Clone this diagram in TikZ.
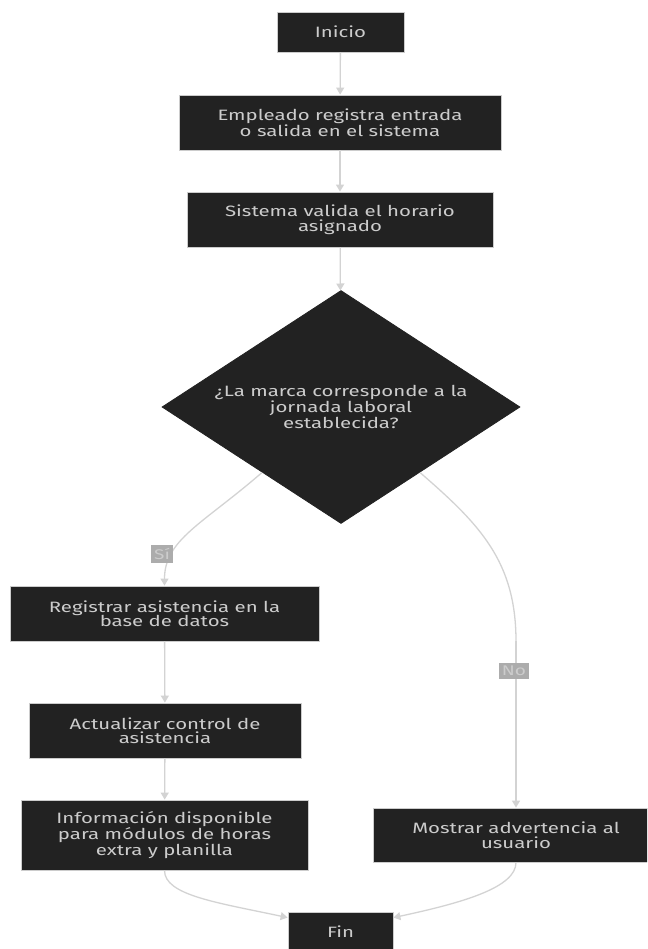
\documentclass[tikz,border=0pt]{standalone}
\usepackage{fontspec}
\setmainfont{Fira Sans}[FakeStretch=1.36]
\usetikzlibrary{arrows.meta,shapes.geometric,calc}
\definecolor{nodebg}{HTML}{222222}
\definecolor{nodeline}{HTML}{CCCCCC}
\definecolor{nodetext}{HTML}{CCCCCC}
\definecolor{edgecol}{HTML}{D3D3D3}
\definecolor{lblbg}{HTML}{ACACAC}
\tikzset{
	box/.style={draw=nodeline,fill=nodebg,text=nodetext,rectangle,align=center,inner sep=0pt,line width=0.8pt,font=\fontsize{15}{14.5}\selectfont},
	decision/.style={box,diamond,draw=nodebg,aspect=1.5},
	lbl/.style={fill=lblbg,text=nodetext,inner sep=3pt,font=\fontsize{14}{14}\selectfont},
	flow/.style={draw=edgecol,line width=1.3pt,-{Triangle[width=8pt,length=7pt]}}
}

\begin{document}
\begin{tikzpicture}[x=1pt,y=-1pt]
	\useasboundingbox (0,0) rectangle (647,949);
	\clip (0,0) rectangle (647,949);
	\node[box,minimum width=127pt,minimum height=40pt] (inicio) at (340.5,32) {Inicio};
	\node[box,minimum width=322pt,minimum height=55pt] (registro) at (340,122.5) {Empleado registra entrada\\o salida en el sistema};
	\node[box,minimum width=306pt,minimum height=55pt] (valida) at (340,219.5) {Sistema valida el horario\\asignado};
	\node[decision,minimum width=358pt,minimum height=233pt] (marca) at (341,407) {¿La marca corresponde a la\\jornada laboral\\establecida?};
	\node[box,minimum width=309pt,minimum height=55pt] (asist) at (164.5,613.5) {Registrar asistencia en la\\base de datos};
	\node[box,minimum width=272pt,minimum height=55pt] (control) at (165,730.5) {Actualizar control de\\asistencia};
	\node[box,minimum width=287pt,minimum height=70pt] (info) at (164.5,835) {Información disponible\\para módulos de horas\\extra y planilla};
	\node[box,minimum width=286pt,minimum height=54pt] (aviso) at (516,835) {Mostrar advertencia al\\usuario};
	\node[box,minimum width=105pt,minimum height=40pt] (fin) at (340.5,932) {Fin};
	\coordinate (nobend) at (aviso.north |- asist.south);
	\draw[flow] (inicio) -- (registro);
	\draw[flow] (registro) -- (valida);
	\draw[flow] (valida) -- (marca);
	\draw[flow] ($(marca.west)!0.56!(marca.south)$) .. controls +(-60,52) and +(0,-46) .. (asist.north);
	\draw[edgecol,line width=1.3pt] ($(marca.east)!0.56!(marca.south)$) .. controls +(60,52) and +(0,-80) .. (nobend);
	\draw[flow] (nobend) -- (aviso.north);
	\draw[flow] (asist) -- (control);
	\draw[flow] (control) -- (info);
	\draw[flow] (info.south) .. controls +(0,25) and +(-70,-15) .. ($(fin.north west)+(0,6)$);
	\draw[flow] (aviso.south) .. controls +(0,25) and +(70,-15) .. ($(fin.north east)+(0,6)$);
	\node[lbl] (si) at (162,554) {Sí};
	\node[lbl] (no) at (514,671) {No};
\end{tikzpicture}
\end{document}
